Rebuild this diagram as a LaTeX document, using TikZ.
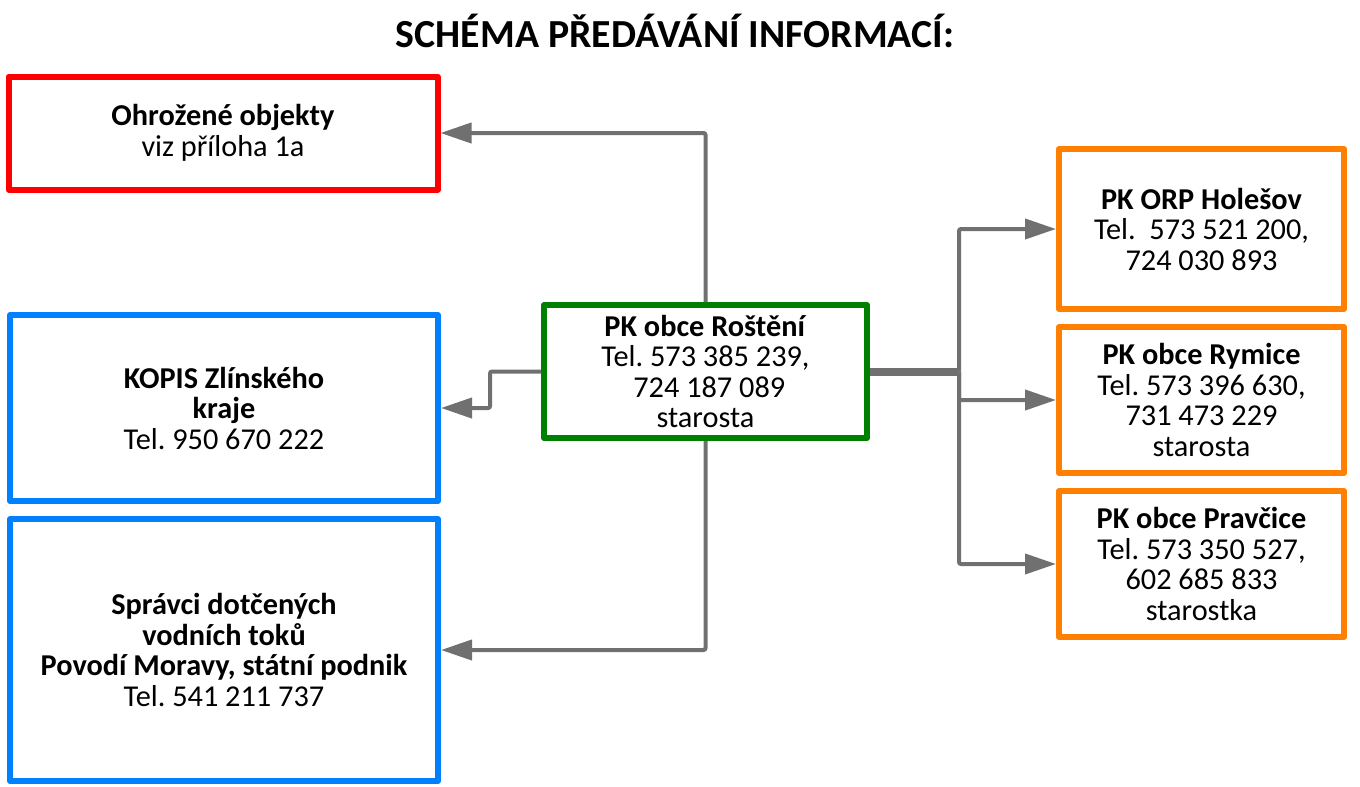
\documentclass[tikz,border=0pt]{standalone}
\usepackage{fontspec}
\setmainfont{Carlito}
\frenchspacing
\usetikzlibrary{arrows.meta}
\definecolor{cred}{HTML}{FF0000}
\definecolor{cblue}{HTML}{0080FF}
\definecolor{cgreen}{HTML}{008000}
\definecolor{corange}{HTML}{FF8000}
\definecolor{cgray}{HTML}{707070}
\tikzset{
  box/.style={draw, line width=6pt, line join=round, fill=white, inner sep=0pt,
    align=center, font=\fontsize{30.3}{30.5}\selectfont},
  conn/.style={draw=cgray, line width=4pt, rounded corners=2pt,
    -{Triangle[length=31pt,width=20pt]}},
  trunk/.style={draw=cgray, line width=8pt},
}
\begin{document}
\begin{tikzpicture}[x=1pt,y=-1pt]
\useasboundingbox (0,0) rectangle (1360,787);
\node[font=\fontsize{39.8}{42}\selectfont\bfseries, anchor=base] (title) at (675,47) {SCHÉMA PŘEDÁVÁNÍ INFORMACÍ:};

\node[box, draw=cred, minimum width=429pt, minimum height=113pt] (red) at (223,133)
  {\textbf{Ohrožené objekty}\\viz příloha 1a};
\node[box, draw=cblue, minimum width=428pt, minimum height=186pt] (blue1) at (224,408)
  {\textbf{KOPIS Zlínského}\\\textbf{kraje}\\Tel. 950 670 222};
\node[box, draw=cblue, minimum width=428pt, minimum height=262pt] (blue2) at (224,650)
  {\textbf{Správci dotčených}\\\textbf{vodních toků}\\\textbf{Povodí Moravy, státní podnik}\\Tel. 541 211 737};
\node[box, draw=cgreen, minimum width=323pt, minimum height=133pt] (green) at (705.5,371.5)
  {\textbf{PK obce Roštění}\\Tel. 573 385 239,\\\hspace*{0.25em}724 187 089\\starosta};
\node[box, draw=corange, minimum width=285pt, minimum height=160pt] (o1) at (1201.5,229)
  {\textbf{PK ORP Holešov}\\Tel.\ \ 573 521 200,\\724 030 893};
\node[box, draw=corange, minimum width=285pt, minimum height=146pt] (o2) at (1201.5,400)
  {\textbf{PK obce Rymice}\\Tel. 573 396 630,\\731 473 229\\starosta};
\node[box, draw=corange, minimum width=285pt, minimum height=146pt] (o3) at (1201.5,564)
  {\textbf{PK obce Pravčice}\\Tel. 573 350 527,\\602 685 833\\starostka};

\draw[conn] (green.north) |- (red.east);
\draw[conn] (green.south) |- (blue2.east);
\coordinate (kb) at (490,371.5);
\draw[conn] (green.west) -- (kb) |- (blue1.east);
\coordinate (rj) at (959,371.5);
\draw[trunk] (green.east) -- (rj);
\draw[conn] (rj) |- (o1.west);
\draw[conn] (rj) |- (o2.west);
\draw[conn] (rj) |- (o3.west);
\end{tikzpicture}
\end{document}
